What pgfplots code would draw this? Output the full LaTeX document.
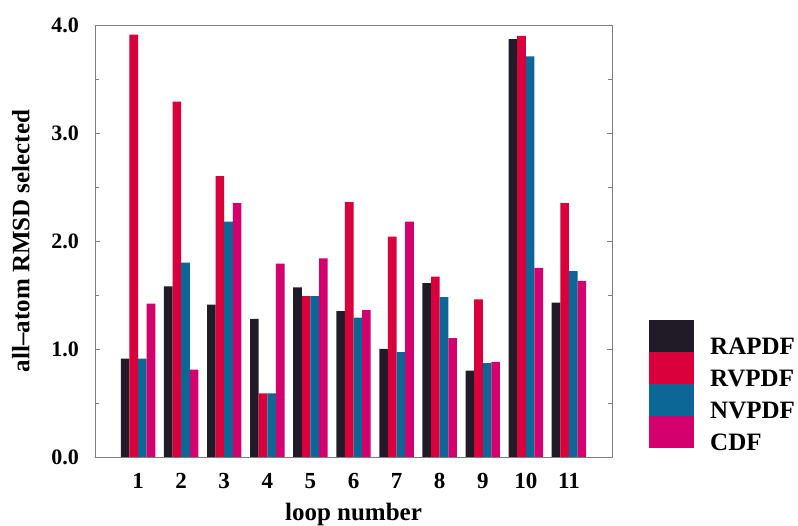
\documentclass[border=0pt]{standalone}
\usepackage{pgfplots}
\usepackage{pgfplotstable}
\pgfplotsset{compat=1.18}
\usepackage{fontspec}
\setmainfont{Liberation Serif}
\definecolor{cRA}{RGB}{32,27,38}
\definecolor{cRV}{RGB}{218,0,60}
\definecolor{cNV}{RGB}{12,102,150}
\definecolor{cCD}{RGB}{212,0,110}
\definecolor{axgray}{RGB}{125,125,125}
\pgfplotsset{
  mybar/.style={ybar, bar width=0.2, draw=none,
    legend image code/.code={\fill[##1,draw=none] (0pt,-5pt) rectangle (45pt,27pt);}},
}
\pgfplotstableread{
x RA RV NV CD
1 0.91 3.91 0.91 1.42
2 1.58 3.29 1.80 0.81
3 1.41 2.60 2.18 2.35
4 1.28 0.59 0.59 1.79
5 1.57 1.49 1.49 1.84
6 1.35 2.36 1.29 1.36
7 1.00 2.04 0.97 2.18
8 1.61 1.67 1.48 1.10
9 0.80 1.46 0.87 0.88
10 3.87 3.90 3.71 1.75
11 1.43 2.35 1.72 1.63
}\datatable
\begin{document}
\begin{tikzpicture}
\useasboundingbox (-95pt,-69pt) rectangle (703pt,457pt);
\begin{axis}[
  at={(0pt,0pt)}, anchor=south west,
  scale only axis, width=517pt, height=432pt,
  xmin=0, xmax=12, ymin=0, ymax=4,
  xtick={1,2,3,4,5,6,7,8,9,10,11},
  ytick={0,1,2,3,4},
  minor ytick={0.5,1.5,2.5,3.5},
  tick align=inside,
  ytick pos=both, xtick pos=bottom,
  major x tick style={draw=none},
  major tick length=5pt, minor tick length=4pt,
  axis line style={axgray, line width=0.9pt},
  every tick/.style={axgray, line width=0.9pt},
  /pgf/number format/assume math mode=true,
  yticklabel style={/pgf/number format/fixed, /pgf/number format/fixed zerofill, /pgf/number format/precision=1,
    inner sep=0pt, anchor=east, xshift=-16pt, font=\fontsize{22}{22}\selectfont\bfseries},
  xticklabel style={inner sep=0pt, anchor=north, yshift=-16pt, font=\fontsize{23}{23}\selectfont\bfseries},
  xlabel={loop number},
  ylabel={all--atom RMSD selected},
  xlabel style={at={(axis description cs:0.5,0)}, anchor=north, inner sep=0pt, yshift=-46pt, font=\fontsize{25}{25}\selectfont\bfseries},
  ylabel style={at={(axis description cs:-0.126,0.5)}, anchor=south, inner sep=0pt, font=\fontsize{25}{25}\selectfont\bfseries},
  legend style={at={(axis description cs:1.0716,0.317)}, anchor=north west, draw=none, fill=none,
    inner sep=0pt, row sep=-4pt, column sep=16pt, nodes={inner sep=0pt},
    font=\fontsize{25}{25}\selectfont\bfseries},
  legend cell align=left,
]
\addplot[mybar, bar shift=-0.3, fill=cRA] table[x=x,y=RA]{\datatable};
\addplot[mybar, bar shift=-0.1, fill=cRV] table[x=x,y=RV]{\datatable};
\addplot[mybar, bar shift=0.1, fill=cNV] table[x=x,y=NV]{\datatable};
\addplot[mybar, bar shift=0.3, fill=cCD] table[x=x,y=CD]{\datatable};
\legend{RAPDF,RVPDF,NVPDF,CDF}
\end{axis}
\end{tikzpicture}
\end{document}
